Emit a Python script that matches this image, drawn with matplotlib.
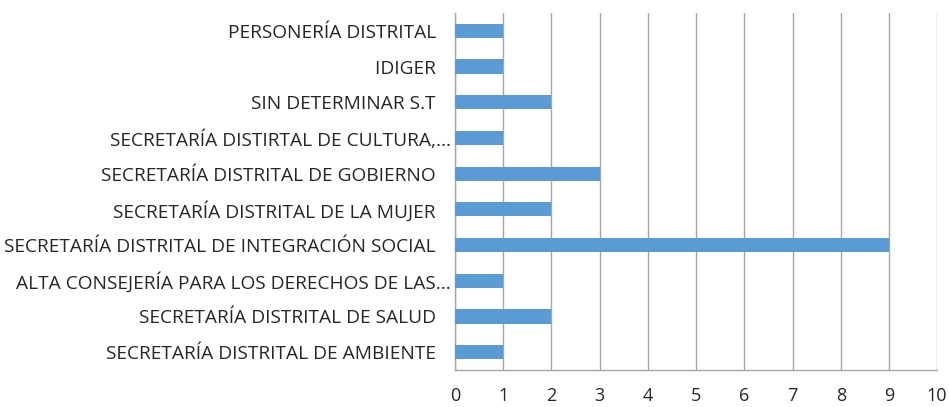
import numpy as np
import matplotlib.pyplot as plt

# datos (de abajo hacia arriba, como en el gráfico)
categorias = [
    "SECRETARÍA DISTRITAL DE AMBIENTE",
    "SECRETARÍA DISTRITAL DE SALUD",
    "ALTA CONSEJERÍA PARA LOS DERECHOS DE LAS...",
    "SECRETARÍA DISTRITAL DE INTEGRACIÓN SOCIAL",
    "SECRETARÍA DISTRITAL DE LA MUJER",
    "SECRETARÍA DISTRITAL DE GOBIERNO",
    "SECRETARÍA DISTIRTAL DE CULTURA,...",
    "SIN DETERMINAR S.T",
    "IDIGER",
    "PERSONERÍA DISTRITAL",
]
valores = [1, 2, 1, 9, 2, 3, 1, 2, 1, 1]
x_ticks = list(range(0, 11))

plt.rcParams['font.family'] = ['Open Sans', 'DejaVu Sans']

fig = plt.figure(figsize=(9.49, 4.07), dpi=100)
ax = fig.add_axes([0.4795, 0.091, 0.508, 0.877])

y = np.arange(len(categorias))
ax.barh(y, valores, height=0.4, color="#5B9BD5", zorder=3)

# etiquetas: las que no terminan en "..." quedan un poco separadas del eje
etiquetas = [c if c.endswith("...") else c + "   " for c in categorias]
ax.set_yticks(y)
ax.set_yticklabels(etiquetas, fontsize=13.8, color="#262626")
ax.set_ylim(-0.5, len(categorias) - 0.5)

ax.set_xlim(0, 10)
ax.set_xticks(x_ticks)
ax.set_xticklabels([str(t) for t in x_ticks], fontsize=13, color="#262626")
ax.tick_params(axis="both", length=0)
ax.tick_params(axis="x", pad=12)
ax.tick_params(axis="y", pad=3)

ax.grid(axis="x", color="#A6A6A6", linewidth=1.0, zorder=0)
for s in ["top", "right"]:
    ax.spines[s].set_visible(False)
for s in ["left", "bottom"]:
    ax.spines[s].set_color("#A6A6A6")
    ax.spines[s].set_linewidth(1.0)

fig.savefig("out.png", dpi=100)
